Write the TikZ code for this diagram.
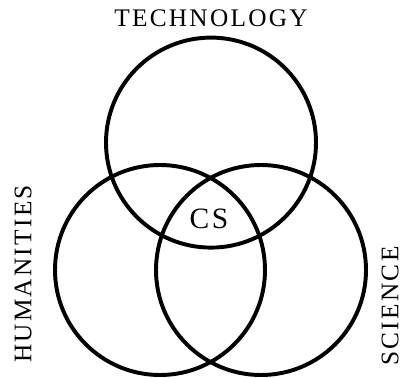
\documentclass[tikz,border=0pt]{standalone}
\usepackage{fontspec}
\newfontfamily\lblfont[LetterSpace=9]{Liberation Serif}
\usetikzlibrary{positioning}

\begin{document}
\begin{tikzpicture}[
  ring/.style={draw, circle, line width=2.8pt, minimum size=5.25cm, inner sep=0pt},
  lbl/.style={font={\lblfont\fontsize{18}{18}\selectfont}, inner sep=0pt}]
\useasboundingbox (0,0) rectangle (10.05,9.425);
\node[ring] (tech) at (5.275,5.86) {};
\node[ring] (hum) at (4.0,2.675) {};
\node[ring] (sci) at (6.525,2.675) {};
\node[lbl, above=0.22 of tech] (techlbl) {TECHNOLOGY};
\node[lbl, rotate=90] (humlbl) at (0.575,2.575) {HUMANITIES};
\node[lbl, rotate=90] (scilbl) at (9.75,1.775) {SCIENCE};
\node[lbl, font={\lblfont\fontsize{21}{21}\selectfont}] (cs) at (5.225,3.95) {CS};
\end{tikzpicture}
\end{document}
